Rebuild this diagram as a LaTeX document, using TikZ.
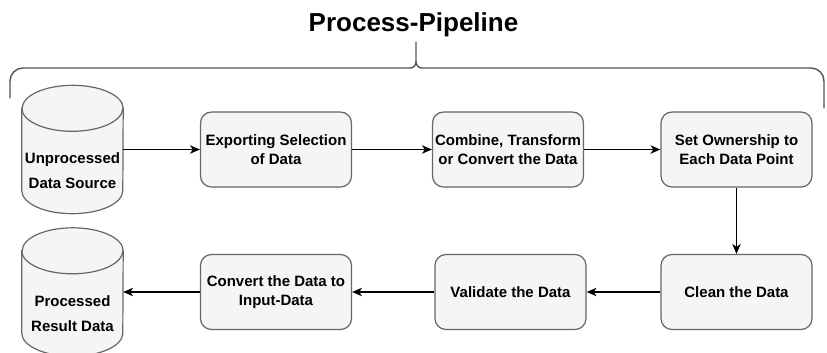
\documentclass[tikz,border=0pt]{standalone}
\usepackage{fontspec}
\setmainfont{Liberation Sans}
\usetikzlibrary{arrows.meta}
\pgfdeclarelayer{background}
\pgfsetlayers{background,main}

\definecolor{boxfill}{HTML}{F5F5F5}
\definecolor{boxline}{HTML}{666666}
\definecolor{bracecol}{HTML}{555555}

% Database drum drawn behind the (invisible) node #1
\newcommand\dbdrum[1]{%
  \begin{pgfonlayer}{background}
    \path[drumbody] ([yshift=-23pt]#1.north west) -- ([yshift=23pt]#1.south west)
      arc[start angle=180,end angle=360,x radius=50.5pt,y radius=23pt]
      -- ([yshift=-23pt]#1.north east)
      arc[start angle=0,end angle=180,x radius=50.5pt,y radius=23pt] -- cycle;
    \draw[drumrim] ([yshift=-23pt]#1.north west)
      arc[start angle=180,end angle=360,x radius=50.5pt,y radius=23pt];
  \end{pgfonlayer}}

\tikzset{
  stepbox/.style={draw=boxline, fill=boxfill, line width=1.2pt, rounded corners=11pt,
    minimum width=151pt, minimum height=75pt, inner sep=0pt, align=center,
    font=\bfseries\fontsize{15}{19}\selectfont},
  drum/.style={minimum width=101pt, minimum height=128pt, inner sep=0pt},
  drumbody/.style={fill=boxfill, draw=boxline, line width=1.2pt},
  drumrim/.style={draw=boxline, line width=1.2pt},
  drumtext/.style={align=center, inner sep=0pt, font=\bfseries\fontsize{15}{25}\selectfont},
  flow/.style={line width=1.2pt, -{Stealth[length=10pt,width=8.5pt,inset=3pt]}},
  bracket/.style={draw=bracecol, line width=1.4pt, line cap=round},
  heading/.style={font=\bfseries\fontsize{26}{30}\selectfont, inner sep=0pt}
}

\begin{document}
\begin{tikzpicture}[x=1pt, y=1pt]
  \useasboundingbox (0,0) rectangle (827,-353);

  % heading and curly bracket
  \node[heading, anchor=base] (title) at (413.5,-32) {Process-Pipeline};
  \draw[bracket] (10,-98) -- (10,-81) arc[start angle=180,end angle=90,radius=13]
    -- (410,-68) arc[start angle=270,end angle=360,radius=6] -- (416,-42);
  \draw[bracket] (416,-62) arc[start angle=180,end angle=270,radius=6]
    -- (811,-68) arc[start angle=90,end angle=0,radius=13] -- (824,-108);

  % data stores
  \node[drum] (src) at (72.5,-149.5) {};
  \dbdrum{src}
  \node[drumtext] (srctext) at ([yshift=-21.5pt]src.center) {Unprocessed\\Data Source};

  \node[drum] (res) at (72.5,-292) {};
  \dbdrum{res}
  \node[drumtext] (restext) at ([yshift=-21.5pt]res.center) {Processed\\Result Data};

  % processing steps
  \node[stepbox] (export)  at (276,-149.5)   {Exporting Selection\\of Data};
  \node[stepbox] (combine) at (508,-149.5)   {Combine, Transform\\or Convert the Data};
  \node[stepbox] (owner)   at (736.5,-149.5) {Set Ownership to\\Each Data Point};
  \node[stepbox] (clean)   at (736.5,-292)   {Clean the Data};
  \node[stepbox] (valid)   at (510.5,-292)   {Validate the Data};
  \node[stepbox] (conv)    at (276,-292)     {Convert the Data to\\Input-Data};

  % flow
  \draw[flow] (src) -- (export);
  \draw[flow] (export) -- (combine);
  \draw[flow] (combine) -- (owner);
  \draw[flow] (owner) -- (clean);
  \draw[flow] (clean) -- (valid);
  \draw[flow] (valid) -- (conv);
  \draw[flow] (conv) -- (res);
\end{tikzpicture}
\end{document}
